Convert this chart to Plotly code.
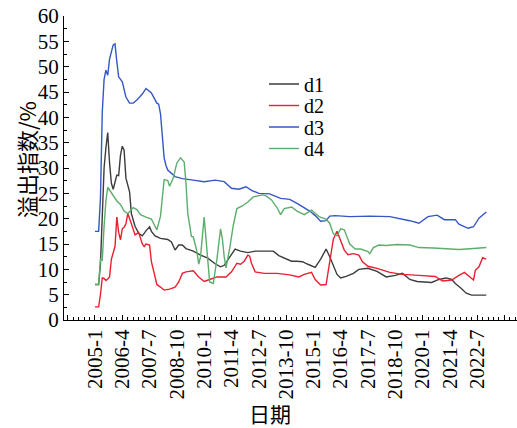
import plotly.graph_objects as go

# months counted from 2005-1 (0 = 2005-1)
d1_t = [0,2,3,4,5,6,7,8,9,10, 11,12,13,14,15,16,17,18,19,20, 21,22,24,26,28,30,31,33,36,40,
        42,44,46,48,50,54,58,62,66,69, 71,74,77,80,84,88,98,101,104,108, 111,114,117,121,124,127,129,131,133,135,
        138,142,145,150,155,160,165,169,173,177, 180,185,189,193,196,198,201,204,207,215]
d1_v = [7.0,7.0,11,19,30,34,37,31,27,25.8, 27.3,28.6,28.5,32.5,34.3,33.5,28,26.5,25.3,21,
        19.7,18.5,17.1,16.6,17.6,18.4,17.5,16.6,16.1,15.9, 15.4,13.8,14.8,14.8,14.1,13.6,12.8,12.2,11.1,10.5,
        10.8,12.5,14.0,13.6,13.3,13.6,13.6,12.7,12.2,11.6, 11.6,11.5,11.0,10.4,12.0,14.0,12.5,10.7,9.0,8.3,
        8.6,9.2,10.0,10.2,9.6,8.5,8.8,9.2,8.0,7.6, 7.5,7.4,8.0,8.3,8.0,7.2,6.3,5.3,4.9,4.9]

d2_t = [0,2,3,4,5,6,7,8,9,10, 11,12,13,14,15,16,17,18,19,20, 22,24,26,27,28,30,31,32,34,36,
        38,41,44,46,48,50,54,57,60,63, 67,72,75,78,80,82,84,85,86,88, 93,100,107,112,115,119,121,124,127,129,
        131,133,135,137,139,142,145,147,150,155, 162,169,178,187,191,196,200,203,206,208, 209,211,213,215]
d2_v = [2.6,2.6,5.0,8.3,8.2,7.8,8.1,8.5,12.0,13.5, 14.5,20.3,17.3,15.8,18.0,18.3,19.0,21.0,19.8,19.0,
        16.8,17.3,15.0,14.5,15.0,14.8,11.5,9.8,7.0,6.5, 5.9,6.1,6.5,7.5,9.2,9.5,9.7,8.5,7.6,8.0,
        8.5,8.5,9.5,11.2,11.0,11.6,12.8,12.6,11.2,9.5, 9.2,9.2,8.9,8.5,9.0,9.4,8.0,6.9,7.0,11.5,
        16.0,17.5,15.5,13.8,12.9,13.1,12.8,11.5,10.6,10.2, 9.4,9.0,8.8,8.6,7.7,7.9,8.8,9.4,8.5,7.9,
        9.8,10.5,12.3,12.0]

d3_t = [0,2,3,4,5,6,7,8,10,11, 12,13,15,17,19,21,23,26,28,31, 34,35,36,37,38,39,40,44,48,54,
        60,66,71,75,79,83,86,90,96,102, 107,111,114,118,121,124,127,129,132,140, 151,162,173,178,183,188,192,198,200,205,
        208,211,215]
d3_v = [17.5,17.5,24,41,47.5,49.3,48.3,51.5,54.3,54.5, 51,48,47,44,42.8,42.8,43.4,44.6,45.7,44.8,
        42.8,42.6,40.7,35.4,32,30.5,29.6,28.3,27.9,27.6, 27.3,27.6,27.3,26.0,25.8,26.3,25.6,25.0,24.9,24.0,
        23.8,23.0,22.3,21.5,20.6,19.5,19.6,20.5,20.6,20.4, 20.5,20.4,19.6,19.1,20.4,20.7,19.8,19.8,18.9,18.1,
        18.4,20.1,21.3]

d4_t = [0,2,3,4,5,6,7,9,10,12, 14,16,18,20,21,23,25,28,31,33, 34,36,37,38,40,41,43,45,47,49,
        50,51,53,54,55,56,57,58,59,60, 61,62,63,65,67,69,70,71,72,74, 76,78,81,84,87,92,94,97,100,102,
        104,108,111,115,119,123,127,129,131,133, 135,137,140,143,146,150,151,153,156,160,
        166,173,178,186,193,200,208,215]
d4_v = [7.0,7.0,12.0,11.8,18.5,23.5,26.2,25.2,24.5,23.5, 22.8,21.5,21.0,21.7,22.2,21.8,20.8,20.3,19.9,18.5,
        17.8,20.5,24,27.7,27.5,26.4,28.0,31.0,32.0,31.2, 27,21,16.5,16.4,15.0,13.5,11.0,12.5,16.5,20.3,
        16.0,11.5,7.5,7.2,12.0,18.0,16.0,12.5,10.3,14.1, 18.7,22.0,22.5,23.3,24.3,24.7,24.5,23.7,22.2,20.8,
        22.0,22.3,21.5,20.8,21.7,20.4,19.9,19.1,17.0,16.6, 18.0,17.8,15.0,14.0,14.0,13.5,13.1,14.3,14.8,14.7,
        14.9,14.8,14.3,14.2,14.1,13.9,14.1,14.3]

names = ["d1", "d2", "d3", "d4"]
colors = ["#3c3c3c", "#e8202f", "#3457c2", "#5cae6c"]

tick_months = list(range(-15, 226, 15))
tick_labels = [("" if (m < 0 or m > 215) else f"{2005 + m // 12}-{m % 12 + 1}") for m in tick_months]

W, H = 517, 428
ML, MR, MT, MB = 64, 0, 16, 108
PW, PH = W - ML - MR, H - MT - MB

serif = "Liberation Serif"
fig = go.Figure()
series = [(d1_t, d1_v), (d2_t, d2_v), (d3_t, d3_v), (d4_t, d4_v)]
legend_ids = ["legend", "legend2", "legend3", "legend4"]
for i, ((t, v), nm, c) in enumerate(zip(series, names, colors)):
    fig.add_trace(go.Scatter(x=t, y=v, name=nm, mode="lines",
                             line=dict(color=c, width=1.4),
                             legend=legend_ids[i]))

leg_y_px = [84, 105.5, 127, 148.5]
legend_common = dict(font=dict(family=serif, size=20, color="black"),
                     bgcolor="rgba(0,0,0,0)", borderwidth=0,
                     xanchor="left", yanchor="middle", itemwidth=30)
lx = (269 - 5 - ML) / PW
fig.update_layout(
    legend=dict(x=lx, y=(H - MB - leg_y_px[0]) / PH, **legend_common),
    legend2=dict(x=lx, y=(H - MB - leg_y_px[1]) / PH, **legend_common),
    legend3=dict(x=lx, y=(H - MB - leg_y_px[2]) / PH, **legend_common),
    legend4=dict(x=lx, y=(H - MB - leg_y_px[3]) / PH, **legend_common),
)

fig.update_xaxes(range=[-17.03, 231.9], tickmode="array", tickvals=tick_months, ticktext=tick_labels,
                 tickangle=-90, ticks="inside", ticklen=5, tickwidth=1, tickcolor="black",
                 showline=True, linecolor="black", linewidth=1, showgrid=False, zeroline=False,
                 tickfont=dict(family=serif, size=21, color="black"),
                 minor=dict(tick0=0, dtick=3, ticks="inside", ticklen=3, tickwidth=1, tickcolor="black", showgrid=False))
fig.update_yaxes(range=[0, 60], dtick=5, tick0=0, ticks="inside", ticklen=5, tickwidth=1, tickcolor="black",
                 showline=True, linecolor="black", linewidth=1, showgrid=False, zeroline=False,
                 tickfont=dict(family=serif, size=21, color="black"),
                 minor=dict(tick0=0, dtick=2.5, ticks="inside", ticklen=3, tickwidth=1, tickcolor="black", showgrid=False))

fig.add_annotation(text="溢出指数/%", xref="paper", yref="paper",
                   x=(26 - ML) / PW, y=(H - MB - 160) / PH, textangle=-90, showarrow=False,
                   font=dict(family="Noto Sans CJK SC", size=22, color="black"),
                   xanchor="center", yanchor="middle")
fig.add_annotation(text="日期", xref="paper", yref="paper",
                   x=(270 - ML) / PW, y=(H - MB - 413) / PH, showarrow=False,
                   font=dict(family="Noto Sans CJK SC", size=21, color="black"),
                   xanchor="center", yanchor="middle")

fig.update_layout(width=W, height=H, margin=dict(l=ML, r=MR, t=MT, b=MB),
                  paper_bgcolor="white", plot_bgcolor="white", showlegend=True)
fig.write_html("out.html")
